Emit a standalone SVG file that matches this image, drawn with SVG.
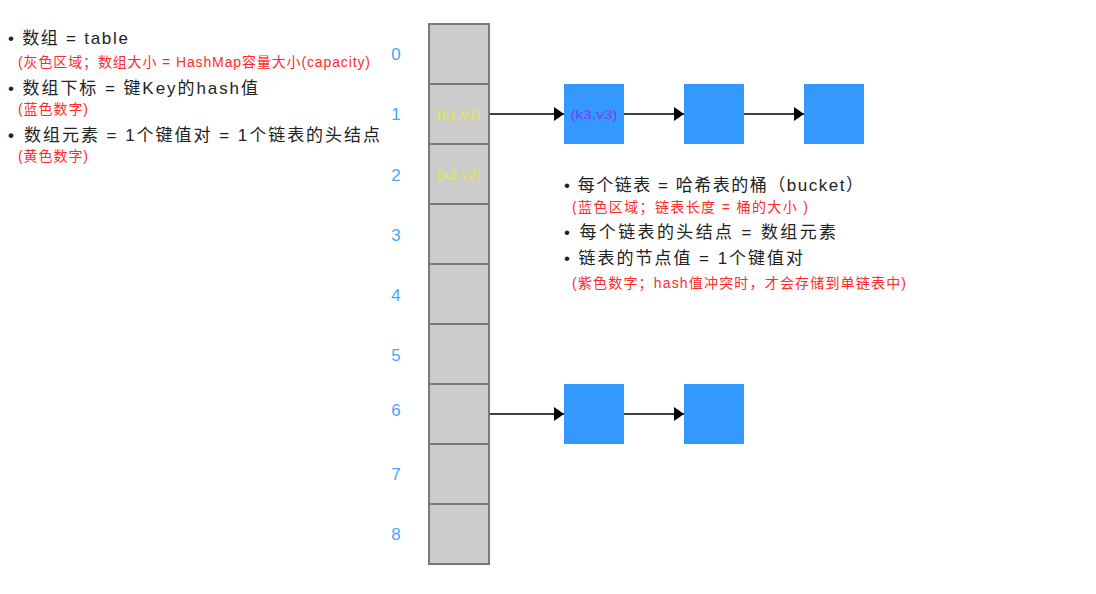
<svg xmlns="http://www.w3.org/2000/svg" width="1096" height="594" viewBox="0 0 1096 594">
<style>
text{font-family:"Liberation Sans","Noto Sans CJK SC",sans-serif}
.t{font-size:17px;fill:#222}
.r{font-size:14px;fill:#ff2a2a}
.n{font-size:17px;fill:#4da3ff;text-anchor:middle}
.cell{fill:#cccccc;stroke:#7a7a7a;stroke-width:2}
.node{fill:#3399ff}
.kv{font-size:13px;fill:#e6e655;text-anchor:middle}
.kp{font-size:13px;fill:#7a3cff;text-anchor:middle}
.c{stroke:#000;stroke-width:1.6;fill:none;marker-end:url(#ah)}
</style>
<defs>
<marker id="ah" viewBox="0 0 10 14" refX="10" refY="7" markerWidth="10" markerHeight="14" markerUnits="userSpaceOnUse" orient="auto">
<path d="M0,0 L10,7 L0,14 z" fill="#000"/>
</marker>
</defs>
<rect width="1096" height="594" fill="#fff"/>
<g id="notes-left">
<text class="t" x="8" y="44" textLength="120" lengthAdjust="spacing">• 数组 = table</text>
<text class="r" x="18" y="67" textLength="352" lengthAdjust="spacing">(灰色区域；数组大小 = HashMap容量大小(capacity)</text>
<text class="t" x="8" y="94" textLength="250" lengthAdjust="spacing">• 数组下标 = 键Key的hash值</text>
<text class="r" x="18" y="114" textLength="70" lengthAdjust="spacing">(蓝色数字)</text>
<text class="t" x="8" y="141" font-weight="bold">•</text>
<text class="t" x="24" y="141" textLength="356" lengthAdjust="spacing">数组元素 = 1个键值对 = 1个链表的头结点</text>
<text class="r" x="18" y="161" textLength="70" lengthAdjust="spacing">(黄色数字)</text>
</g>
<g id="indices">
<text class="n" x="396" y="60">0</text>
<text class="n" x="396" y="120">1</text>
<text class="n" x="396" y="181">2</text>
<text class="n" x="396" y="241">3</text>
<text class="n" x="396" y="301">4</text>
<text class="n" x="396" y="361">5</text>
<text class="n" x="396" y="416">6</text>
<text class="n" x="396" y="480">7</text>
<text class="n" x="396" y="540">8</text>
</g>
<g id="array">
<rect class="cell" x="429" y="24" width="60" height="60"/>
<rect class="cell" x="429" y="84" width="60" height="60"/>
<rect class="cell" x="429" y="144" width="60" height="60"/>
<rect class="cell" x="429" y="204" width="60" height="60"/>
<rect class="cell" x="429" y="264" width="60" height="60"/>
<rect class="cell" x="429" y="324" width="60" height="60"/>
<rect class="cell" x="429" y="384" width="60" height="60"/>
<rect class="cell" x="429" y="444" width="60" height="60"/>
<rect class="cell" x="429" y="504" width="60" height="60"/>
<text class="kv" x="459" y="119" textLength="44" lengthAdjust="spacingAndGlyphs">(k1,v1)</text>
<text class="kv" x="459" y="179" textLength="44" lengthAdjust="spacingAndGlyphs">(k2,v2)</text>
</g>
<g id="node-1a"><rect class="node" x="564" y="84" width="60" height="60"/><text class="kp" x="594" y="119" textLength="47" lengthAdjust="spacingAndGlyphs">(k3,v3)</text></g>
<g id="node-1b"><rect class="node" x="684" y="84" width="60" height="60"/></g>
<g id="node-1c"><rect class="node" x="804" y="84" width="60" height="60"/></g>
<g id="node-6a"><rect class="node" x="564" y="384" width="60" height="60"/></g>
<g id="node-6b"><rect class="node" x="684" y="384" width="60" height="60"/></g>
<g id="connectors">
<line class="c" x1="490" y1="114" x2="564" y2="114"/>
<line class="c" x1="624" y1="114" x2="684" y2="114"/>
<line class="c" x1="744" y1="114" x2="804" y2="114"/>
<line class="c" x1="490" y1="414" x2="564" y2="414"/>
<line class="c" x1="624" y1="414" x2="684" y2="414"/>
</g>
<g id="notes-right">
<text class="t" x="564" y="191" textLength="299" lengthAdjust="spacing">• 每个链表 = 哈希表的桶（bucket）</text>
<text class="r" x="572" y="212" textLength="236" lengthAdjust="spacing">(蓝色区域；链表长度 = 桶的大小 )</text>
<text class="t" x="564" y="238" textLength="272" lengthAdjust="spacing">• 每个链表的头结点 = 数组元素</text>
<text class="t" x="564" y="264" textLength="239" lengthAdjust="spacing">• 链表的节点值 = 1个键值对</text>
<text class="r" x="572" y="288" textLength="334" lengthAdjust="spacing">(紫色数字；hash值冲突时，才会存储到单链表中)</text>
</g>
</svg>
